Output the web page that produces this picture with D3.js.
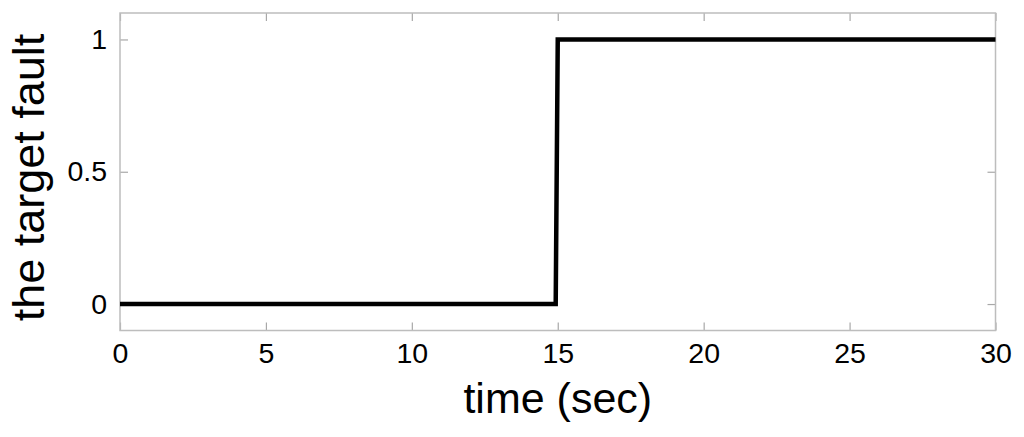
<!DOCTYPE html>
<html>
<head>
<meta charset="utf-8">
<script src="https://cdn.jsdelivr.net/npm/d3@7"></script>
<style>
html,body{margin:0;padding:0;background:#fff;}
svg{display:block;font-family:"Liberation Sans",Arial,sans-serif;}
</style>
</head>
<body>
<svg id="chart" width="1024" height="437"></svg>
<script>
const timeValues = [0, 14.93, 15, 30];
const faultValues = [0, 0, 1, 1];
const xTicks = [0, 5, 10, 15, 20, 25, 30];
const yTicks = [0, 0.5, 1];
const xLabel = "time (sec)";
const yLabel = "the target fault";

const svg = d3.select("#chart");
const L = 120, R = 995.5, T = 13, B = 330.5;
const x = d3.scaleLinear().domain([0, 30]).range([L, R]);
const y = d3.scaleLinear().domain([-0.1, 1.1]).range([B, T]);

const tickLen = 8;
const boxColor = "#bdbdbd";

const gx = svg.append("g").attr("transform", `translate(0,${B})`)
  .call(d3.axisBottom(x).tickValues(xTicks).tickSize(-tickLen).tickPadding(12).tickFormat(d3.format("~g")));
const gxt = svg.append("g").attr("transform", `translate(0,${T})`)
  .call(d3.axisTop(x).tickValues(xTicks).tickSize(-tickLen).tickFormat(""));
const gy = svg.append("g").attr("transform", `translate(${L},0)`)
  .call(d3.axisLeft(y).tickValues(yTicks).tickSize(-tickLen).tickPadding(13).tickFormat(d3.format("~g")));
const gyr = svg.append("g").attr("transform", `translate(${R},0)`)
  .call(d3.axisRight(y).tickValues(yTicks).tickSize(-tickLen).tickFormat(""));

[gx, gxt, gy, gyr].forEach(g => {
  g.select(".domain").remove();
  g.selectAll(".tick line").attr("stroke", "#a8a8a8").attr("stroke-width", 1.2);
  g.selectAll(".tick text").attr("fill", "#000").attr("font-size", 28.5)
    .attr("font-family", "Liberation Sans, Arial, sans-serif");
});
gx.selectAll(".tick text").attr("dy", "0.71em");

svg.append("rect").attr("x", L).attr("y", T).attr("width", R - L).attr("height", B - T)
  .attr("fill", "none").attr("stroke", boxColor).attr("stroke-width", 1.5);

const data = timeValues.map((t, i) => ({t, v: faultValues[i]}));
svg.append("path").datum(data)
  .attr("fill", "none").attr("stroke", "#000").attr("stroke-width", 4.5)
  .attr("stroke-linejoin", "miter")
  .attr("d", d3.line().x(d => x(d.t)).y(d => y(d.v)));

svg.append("text").attr("x", (L + R) / 2).attr("y", 413)
  .attr("text-anchor", "middle").attr("font-size", 43).attr("fill", "#000").text(xLabel);
svg.append("text").attr("transform", `translate(44,177.5) rotate(-90)`)
  .attr("text-anchor", "middle").attr("font-size", 45).attr("fill", "#000").text(yLabel);
</script>
</body>
</html>
